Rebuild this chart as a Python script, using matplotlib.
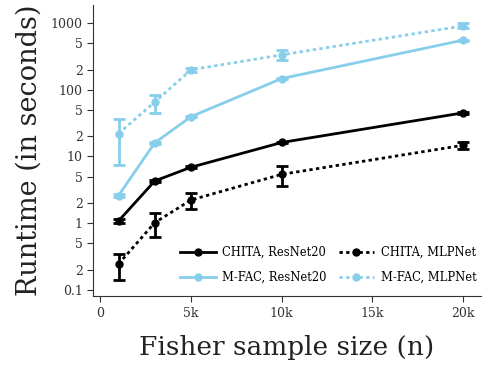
import numpy as np
import matplotlib
matplotlib.use("Agg")
import matplotlib.pyplot as plt
from matplotlib.lines import Line2D

plt.rcParams['font.family'] = ['DejaVu Serif']

# Fisher sample sizes
n = [1000, 3000, 5000, 10000, 20000]

# runtimes in seconds
chita_resnet = [1.08, 4.3, 6.9, 16.2, 45]
chita_resnet_lo = [1.0, 4.1, 6.7, 15.8, 44]
chita_resnet_hi = [1.15, 4.5, 7.1, 16.6, 46]

chita_mlp = [0.245, 1.02, 2.23, 5.4, 14.7]
chita_mlp_lo = [0.141, 0.62, 1.62, 3.6, 13.1]
chita_mlp_hi = [0.344, 1.44, 2.87, 7.2, 16.6]

mfac_resnet = [2.6, 16, 39.5, 147, 552]
mfac_resnet_lo = [2.5, 15.5, 38.5, 143, 540]
mfac_resnet_hi = [2.7, 16.5, 40.5, 151, 565]

mfac_mlp = [22, 65.5, 199, 333, 902]
mfac_mlp_lo = [7.4, 45, 184, 277, 832]
mfac_mlp_hi = [37, 84, 215, 396, 988]

ytick_vals = [0.1, 0.2, 0.5, 1, 2, 5, 10, 20, 50, 100, 200, 500, 1000]
ytick_labels = ["0.1", "2", "5", "1", "2", "5", "10", "2", "5", "100", "2", "5", "1000"]
xtick_vals = [0, 5000, 10000, 15000, 20000]
xtick_labels = ["0", "5k", "10k", "15k", "20k"]

blue = "#87CEEB"
dotted = (0, (1.2, 1.2))

fig = plt.figure(figsize=(4.85, 3.66), dpi=100)
ax = fig.add_axes([0.192, 0.191, 0.80, 0.795])


def draw(y, lo, hi, color, ls):
    y = np.array(y)
    err = [y - np.array(lo), np.array(hi) - y]
    ax.errorbar(n, y, yerr=err, color=color, linestyle=ls, linewidth=2,
                marker="o", markersize=5, capsize=4, capthick=2,
                elinewidth=2)


draw(chita_resnet, chita_resnet_lo, chita_resnet_hi, "black", "-")
draw(mfac_resnet, mfac_resnet_lo, mfac_resnet_hi, blue, "-")
draw(chita_mlp, chita_mlp_lo, chita_mlp_hi, "black", dotted)
draw(mfac_mlp, mfac_mlp_lo, mfac_mlp_hi, blue, dotted)

ax.set_yscale("log")
ax.set_ylim(0.081, 1850)
ax.set_xlim(-400, 21000)
ax.set_yticks(ytick_vals)
ax.set_yticklabels(ytick_labels)
ax.yaxis.set_minor_locator(matplotlib.ticker.NullLocator())
ax.set_xticks(xtick_vals)
ax.set_xticklabels(xtick_labels)
ax.tick_params(labelsize=9, colors="#333333", length=4)

for s in ["top", "right"]:
    ax.spines[s].set_visible(False)
for s in ["left", "bottom"]:
    ax.spines[s].set_color("#333333")

ax.set_xlabel("Fisher sample size (n)", fontsize=19, color="#222222", labelpad=11)
ax.set_ylabel("Runtime (in seconds)", fontsize=19.5, color="#222222", labelpad=6)

handles = [
    Line2D([], [], color="black", lw=2, marker="o", markersize=5),
    Line2D([], [], color=blue, lw=2, marker="o", markersize=5),
    Line2D([], [], color="black", lw=2, ls=dotted, marker="o", markersize=5),
    Line2D([], [], color=blue, lw=2, ls=dotted, marker="o", markersize=5),
]
labels = ["CHITA, ResNet20", "M-FAC, ResNet20", "CHITA, MLPNet", "M-FAC, MLPNet"]
ax.legend(handles, labels, ncol=2, loc="lower right", bbox_to_anchor=(1.01, 0.015),
          frameon=False, fontsize=8.3, handlelength=3.1, handletextpad=0.6,
          columnspacing=1.0, labelspacing=1.0, borderaxespad=0.3)

fig.savefig("out.png", dpi=100)
